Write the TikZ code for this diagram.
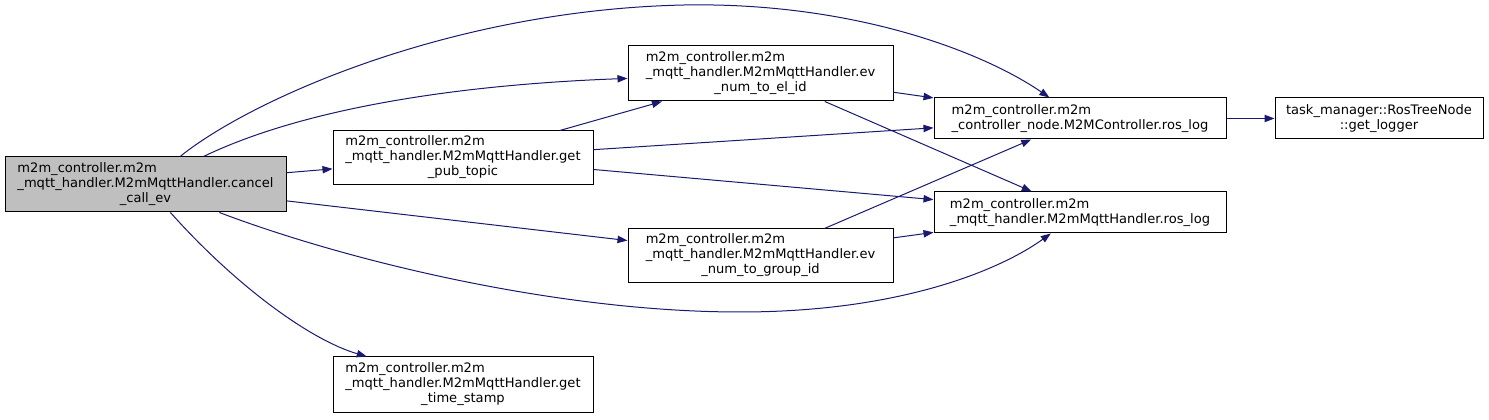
\documentclass[tikz,border=0pt]{standalone}
\usepackage{fontspec}
\setmainfont{DejaVu Sans}
\usetikzlibrary{arrows.meta}
\definecolor{CallBlue}{HTML}{191970}
\definecolor{CurGray}{HTML}{BFBFBF}
\newcommand{\fnname}[3]{\begin{tabular}{@{}l@{}}#1\\#2\\\multicolumn{1}{@{}c@{}}{#3}\end{tabular}}

\begin{document}
\begin{tikzpicture}[x=0.75pt,y=-0.75pt,font=\fontsize{9.8}{11.25}\selectfont,>={Triangle[length=7.5pt,width=5.5pt]},
    fn/.style={draw=black,line width=0.75pt,fill=white,inner sep=0pt,minimum width=195pt,minimum height=40.5pt},
    call/.style={->,draw=CallBlue,fill=none,line width=0.75pt}]
      \useasboundingbox (0,0) rectangle (1489,420);
      \node[fn,fill=CurGray,minimum width=210.75pt,minimum height=41.25pt] (cancel) at (145.5,184.5) {\fnname{m2m\_controller.m2m}{\_mqtt\_handler.M2mMqttHandler.cancel}{\_call\_ev}};
      \node[fn] (pubtopic) at (463,158) {\fnname{m2m\_controller.m2m}{\_mqtt\_handler.M2mMqttHandler.get}{\_pub\_topic}};
      \node[fn,minimum width=198.75pt,minimum height=41.25pt] (elid) at (760.5,73.5) {\fnname{m2m\_controller.m2m}{\_mqtt\_handler.M2mMqttHandler.ev}{\_num\_to\_el\_id}};
      \node[fn,minimum width=198.75pt] (groupid) at (760.5,256) {\fnname{m2m\_controller.m2m}{\_mqtt\_handler.M2mMqttHandler.ev}{\_num\_to\_group\_id}};
      \node[fn,minimum height=41.25pt] (timestamp) at (463,384.5) {\fnname{m2m\_controller.m2m}{\_mqtt\_handler.M2mMqttHandler.get}{\_time\_stamp}};
      \node[fn,minimum width=219pt,minimum height=30.75pt,align=left] (ctrllog) at (1080,118.5) {m2m\_controller.m2m\\\_controller\_node.M2MController.ros\_log};
      \node[fn,minimum width=219pt,minimum height=30.75pt,align=left] (mqttlog) at (1080,212.5) {m2m\_controller.m2m\\\_mqtt\_handler.M2mMqttHandler.ros\_log};
      \node[fn,minimum width=156pt,minimum height=30.75pt,align=center] (logger) at (1379,118.5) {task\_manager::RosTreeNode\\::get\_logger};
      % calls out of cancel_call_ev
      \draw[call] (cancel) .. controls (250,100) and (450,10) .. (684,5) .. controls (850,2) and (980,50) .. (ctrllog);
      \draw[call] (cancel) .. controls (300,110) and (450,85) .. (elid);
      \draw[call] (cancel) -- (pubtopic);
      \draw[call] (cancel) -- (groupid);
      \draw[call] (cancel) .. controls (350,262) and (560,312) .. (740,312) .. controls (900,312) and (1000,270) .. (mqttlog);
      \draw[call] (cancel) .. controls (235,285) and (310,340) .. (timestamp);
      % the rest
      \draw[call] (pubtopic) -- (elid);
      \draw[call] (pubtopic) -- (ctrllog);
      \draw[call] (pubtopic) -- (mqttlog);
      \draw[call] (elid) -- (ctrllog);
      \draw[call] (elid) -- (mqttlog);
      \draw[call] (groupid) -- (ctrllog);
      \draw[call] (groupid) -- (mqttlog);
      \draw[call] (ctrllog) -- (logger);
    \end{tikzpicture}
\end{document}
